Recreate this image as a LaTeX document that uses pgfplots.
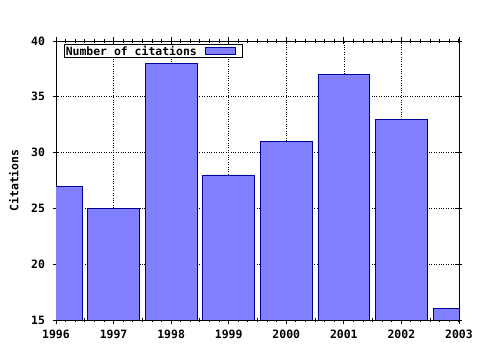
\documentclass[border=0pt]{standalone}
\usepackage{fontspec}
\setmainfont{DejaVu Sans Mono}
\usepackage{pgfplots}
\pgfplotsset{compat=1.18}
\definecolor{barfill}{RGB}{128,128,255}
\definecolor{baredge}{RGB}{0,0,150}
\begin{document}
\begin{tikzpicture}
\path (0bp,0bp) rectangle (480bp,350bp);
\begin{axis}[
  at={(56bp,30bp)}, anchor=south west,
  scale only axis, width=403bp, height=279bp,
  xmin=1996, xmax=2003, ymin=15, ymax=40,
  xtick={1996,...,2003}, ytick={15,20,...,40},
  minor xtick={1996,1996.1667,...,2003},
  tick align=center,
  major tick length=7bp, minor tick length=4bp,
  every tick/.style={black, line width=0.8pt},
  every minor tick/.style={black, line width=0.8pt},
  axis line style={black, line width=0.8pt},
  grid=major, major grid style={black, dotted, line width=0.6pt},
  minor grid style={draw=none},
  /pgf/number format/1000 sep={},
  /pgf/number format/assume math mode=true,
  font=\bfseries\fontsize{11.5}{13}\selectfont,
  ticklabel style={font=\bfseries\fontsize{11.5}{13}\selectfont},
  xticklabel style={yshift=-3bp},
  yticklabel style={xshift=-4bp},
  ylabel={Citations},
  ylabel style={at={(axis description cs:-0.105,0.5)}, anchor=center, font=\bfseries\fontsize{11.5}{13}\selectfont},
  legend plot pos=right,
  legend cell align=left,
  legend style={at={(axis description cs:0.02,0.989)}, anchor=north west, draw=black, fill=white, line width=0.8pt, inner sep=0.3pt, font=\bfseries\fontsize{11.5}{12}\selectfont, nodes={inner sep=1pt}},
]
\addplot[ybar, bar width=0.9, fill=barfill, draw=baredge, line width=0.8pt,
  legend image code/.code={\draw[fill=barfill, draw=baredge, line width=0.8pt] (8bp,-3.5bp) rectangle (38bp,3.5bp); \path[draw=none, fill=none] (0bp,0bp) rectangle (44bp,0.1bp);}]
  coordinates {(1996,27) (1997,25) (1998,38) (1999,28) (2000,31) (2001,37) (2002,33) (2003,16)};
\addlegendentry{Number of citations}
\end{axis}
\end{tikzpicture}
\end{document}
